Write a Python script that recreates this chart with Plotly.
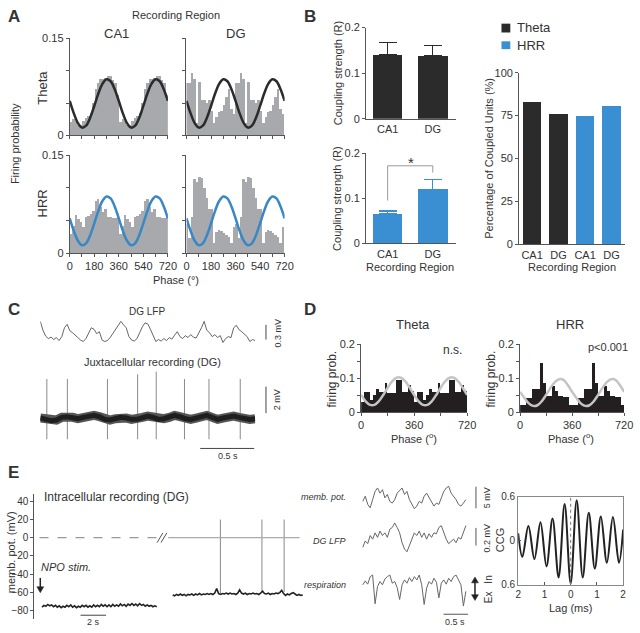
import plotly.graph_objects as go

W, H = 640, 633

# ---------------- DATA ----------------
# Panel A: phase histograms (18 deg bins, one cycle, shown twice)
A_bin_deg = 18
A_ca1_theta = [0.020, 0.025, 0.022, 0.015, 0.015, 0.022, 0.026, 0.030, 0.034, 0.050,
               0.072, 0.080, 0.087, 0.087, 0.088, 0.092, 0.092, 0.085, 0.080, 0.062]
A_dg_theta = [0.081, 0.081, 0.096, 0.087, 0.018, 0.082, 0.055, 0.055, 0.049, 0.054,
              0.038, 0.018, 0.028, 0.036, 0.038, 0.046, 0.059, 0.072, 0.041, 0.033]
A_ca1_hrr = [0.029, 0.041, 0.058, 0.052, 0.048, 0.040, 0.055, 0.057, 0.060, 0.065,
             0.080, 0.083, 0.071, 0.063, 0.068, 0.055, 0.055, 0.054, 0.054, 0.060]
A_dg_hrr = [0.045, 0.023, 0.055, 0.113, 0.108, 0.116, 0.115, 0.100, 0.085, 0.068,
            0.068, 0.015, 0.033, 0.035, 0.034, 0.031, 0.028, 0.025, 0.015, 0.040]
fit_phase = [0, 30, 60, 90, 120, 150, 180, 210, 240, 270, 300, 330,
             360, 390, 420, 450, 480, 510, 540, 570, 600, 630, 660, 690, 720]
A_fit_cycle = [0.0534, 0.0342, 0.0192, 0.0122, 0.0152, 0.0275,
               0.0456, 0.0648, 0.0798, 0.0868, 0.0838, 0.0715]
phase_ticks = [0, 90, 180, 270, 360, 450, 540, 630, 720]
phase_ticktext = ['0', '', '180', '', '360', '', '540', '', '720']

# Panel B
B_regions = ['CA1', 'DG']
B_theta_R = [0.140, 0.138]
B_theta_err = [0.027, 0.023]
B_hrr_R = [0.065, 0.120]
B_hrr_err = [0.007, 0.021]
B_pct_labels = ['CA1', 'DG', 'CA1', 'DG']
B_pct_band = ['Theta', 'Theta', 'HRR', 'HRR']
B_pct = [83, 76, 75, 81]

# Panel C: DG LFP (mV) sampled every 25 ms, juxtacellular baseline every 50 ms
C_lfp_dt = 0.025
C_lfp = [0.43, 0.25, 0.13, 0.08, 0.11, 0.06, 0.10, 0.04, 0.12, 0.30, 0.37, 0.24, 0.20, 0.14,
         0.10, 0.05, 0.02, 0.08, 0.20, 0.30, 0.27, 0.18, 0.22, 0.05, 0.02, 0.04, 0.10, 0.18,
         0.26, 0.33, 0.43, 0.36, 0.30, 0.12, 0.05, 0.03, 0.08, 0.20, 0.32, 0.40, 0.38, 0.27,
         0.14, 0.02, 0.06, 0.03, 0.08, 0.04, 0.10, 0.07, 0.15, 0.22, 0.12, 0.08, 0.14, 0.10,
         0.16, 0.11, 0.09, 0.18, 0.30, 0.43, 0.25, 0.20, 0.12, 0.16, 0.10, 0.14, 0.00, 0.08,
         0.12, 0.10, 0.30, 0.35, 0.26, 0.22, 0.16, 0.12, 0.02, 0.06, 0.04]
C_juxta_dt = 0.05
C_juxta = [0.0, -0.1, -0.2, -0.15, 0.05, 0.1, 0.05, -0.05, 0.05, 0.15, 0.2, 0.1, -0.1, -0.15,
           -0.05, 0.05, 0.0, -0.1, -0.1, 0.05, 0.15, 0.05, -0.1, -0.05, 0.05, 0.2, 0.1, -0.05,
           -0.1, 0.0, 0.1, 0.2, 0.05, -0.1, 0.0, 0.1, 0.15, 0.05, -0.05, -0.1, -0.05]
C_spike_t = [0.061, 0.252, 0.625, 0.906, 1.079, 1.342, 1.570, 1.861]
C_spike_peak = [2.95, 2.95, 2.95, 3.3, 3.5, 2.95, 2.95, 2.95]
C_spike_trough = [-1.6, -1.6, -1.6, -1.6, -1.6, -1.6, -1.6, -1.6]

# Panel D: phase histograms (20 deg bins, one cycle shown twice)
D_bin_deg = 20
D_theta = [0.030, 0.057, 0.057, 0.035, 0.050, 0.066, 0.058, 0.058, 0.085,
           0.056, 0.056, 0.056, 0.095, 0.095, 0.058, 0.058, 0.080, 0.060]
D_hrr = [0.020, 0.020, 0.040, 0.040, 0.066, 0.066, 0.066, 0.144, 0.085,
         0.046, 0.046, 0.075, 0.061, 0.046, 0.046, 0.044, 0.044, 0.020]
D_theta_fit_cycle = [0.0508, 0.0322, 0.0214, 0.0214, 0.0322, 0.0508,
                     0.0722, 0.0908, 0.1016, 0.1016, 0.0908, 0.0722]
D_hrr_fit_cycle = [0.0600, 0.0420, 0.0260, 0.0186, 0.0204, 0.0323,
                   0.0511, 0.0717, 0.0886, 0.0974, 0.0956, 0.0800]

# Panel E: intracellular recording (mV), samples every 0.15 s
E_dt = 0.15
E_seg1_t0 = 0.6
E_seg1 = [-76.5, -74.5, -75.5, -73.5, -75, -74, -76, -74.5, -76.5, -75, -77, -75.5, -76.5,
          -74.5, -76, -74, -76.5, -75, -77, -75.5, -76.5, -74.5, -76, -74.5, -76.5, -75,
          -76.5, -74, -76, -74.5, -76, -73.5, -75.5, -74, -76, -74, -76, -73.5, -75.5, -74,
          -75.5, -73, -75, -73.5, -75.5, -73, -74.5, -72.5, -74.5, -73, -75, -72.5, -74.5,
          -73.5, -75.5, -74, -75.5, -74.5, -76, -75, -76]
E_seg2_t0 = 10.85
E_seg2 = [-63.0, -64.0, -62.5, -63.5, -62.0, -63.5, -62.5, -64.0, -62.5, -63.0, -62.0, -63.5,
          -62.0, -63.0, -61.5, -63.0, -62.0, -62.5, -61.5, -62.5, -61.5, -62.5, -61.0, -56.0,
          -61.5, -62.5, -61.5, -62.0, -61.0, -62.0, -61.0, -62.0, -61.5, -62.5, -61.0, -57.5,
          -61.0, -62.0, -61.0, -62.5, -61.5, -62.0, -61.0, -62.0, -61.5, -62.5, -61.0, -59.0,
          -61.5, -62.0, -61.0, -62.5, -61.5, -62.0, -61.0, -61.5, -60.5, -58.0, -61.5, -63.5,
          -62.0, -63.0, -61.5, -60.5, -62.0, -63.5, -62.5, -63.5, -63.0]
E_spike_t = [14.59, 17.85, 19.59]
E_spike_peak = [20, 20, 20]
E_spike_base = [-61, -60, -60]
E_ticks = [-80, -60, -40, -20, 0, 20, 40]

# Panel E middle traces, samples every 50 ms
E2_dt = 0.05
E2_memb = [1.9, 3.1, 1.2, 0.4, 2.3, 4.2, 5.0, 3.8, 4.6, 2.7, 3.5, 1.9, 1.5, 2.3, 3.8, 4.5,
           5.0, 3.5, 4.2, 2.3, 1.2, 0.2, 0.8, 1.9, 1.5, 3.1, 3.8, 2.7, 1.9, 0.8, 1.5, 1.2,
           2.7, 4.2, 5.0, 5.4, 3.8, 3.1, 2.3, 1.2, 0.8, 1.5, 2.3]
E2_lfp = [0.0, 0.07, 0.04, 0.13, 0.09, 0.16, 0.11, 0.18, 0.13, 0.16, 0.11, 0.20, 0.22, 0.27,
          0.22, 0.16, 0.05, -0.02, -0.05, 0.02, 0.11, 0.16, 0.13, 0.18, 0.11, 0.16, 0.09,
          0.15, 0.11, 0.16, 0.15, 0.22, 0.24, 0.16, 0.09, 0.04, 0.07, 0.09, 0.05, 0.11, 0.09,
          0.16, 0.24]
E2_resp = [0.70, 0.82, 0.72, 0.95, 1.00, 0.12, 0.65, 0.80, 0.70, 0.88, 0.95, 1.00, 0.75,
           0.80, 0.62, 0.25, 0.70, 0.85, 0.75, 0.92, 0.80, 0.95, 0.85, 1.00, 0.70, 0.10,
           0.60, 0.80, 0.72, 0.90, 0.78, 0.30, 0.75, 0.85, 0.72, 0.90, 0.80, 0.95, 1.00,
           0.85, 0.70, 0.05, 0.50]

# CCG (extrema and end points)
ccg_lag = [-2.0, -1.84, -1.61, -1.38, -1.15, -0.92, -0.69, -0.46, -0.23, 0.0,
           0.23, 0.46, 0.69, 0.92, 1.15, 1.38, 1.61, 1.84, 2.0]
ccg_val = [0.10, -0.22, 0.20, -0.25, 0.25, -0.35, 0.30, -0.50, 0.50, -0.58,
           0.55, -0.50, 0.38, -0.38, 0.33, -0.30, 0.32, -0.30, 0.15]

# ---------------- STYLE ----------------
DARK = '#2b2b2b'
BLUE = '#3a8fd2'
GRAY_BAR = '#a7a9ac'
TXT = '#333333'
FONT = 'Arial, Liberation Sans, sans-serif'

fig = go.Figure()
layout = dict(width=W, height=H, margin=dict(l=0, r=0, t=0, b=0),
              paper_bgcolor='white', plot_bgcolor='white', showlegend=False,
              bargap=0, font=dict(family=FONT, color=TXT, size=11))
annotations = []
shapes = []
count = [0]


def axes(xpx, ypx, xcfg, ycfg):
    count[0] += 1
    i = count[0]
    s = '' if i == 1 else str(i)
    base = dict(showgrid=False, zeroline=False, fixedrange=True)
    xa = dict(base, domain=[xpx[0] / W, xpx[1] / W], anchor='y' + s)
    xa.update(xcfg)
    ya = dict(base, domain=[1 - ypx[1] / H, 1 - ypx[0] / H], anchor='x' + s)
    ya.update(ycfg)
    layout['xaxis' + s] = xa
    layout['yaxis' + s] = ya
    return 'x' + s, 'y' + s


def styled(**kw):
    d = dict(showline=True, linecolor='#555', linewidth=1, ticks='outside', ticklen=3,
             tickcolor='#555', tickwidth=1, tickfont=dict(size=11, color=TXT))
    d.update(kw)
    return d


HIDDEN = dict(visible=False)


def txt(s, x, y, size=11, angle=0, xanchor='center', yanchor='middle', color=TXT):
    annotations.append(dict(text=s, x=x / W, y=1 - y / H, xref='paper', yref='paper',
                            showarrow=False, font=dict(size=size, color=color, family=FONT),
                            textangle=angle, xanchor=xanchor, yanchor=yanchor))


def pline(x0, y0, x1, y1, color='#333', width=1, dash='solid'):
    shapes.append(dict(type='line', xref='paper', yref='paper', x0=x0 / W, y0=1 - y0 / H,
                       x1=x1 / W, y1=1 - y1 / H, line=dict(color=color, width=width, dash=dash)))


def tri(pts, color='#222'):
    path = 'M ' + ' L '.join('%.5f,%.5f' % (x / W, 1 - y / H) for x, y in pts) + ' Z'
    shapes.append(dict(type='path', xref='paper', yref='paper', path=path,
                       fillcolor=color, line=dict(color=color, width=0.5)))


# ---------------- PANEL A ----------------
A_centers = [A_bin_deg / 2 + A_bin_deg * i for i in range(2 * len(A_ca1_theta))]
A_fit = A_fit_cycle + A_fit_cycle + [A_fit_cycle[0]]
A_panels = [
    (A_ca1_theta, DARK, (68, 168), (33, 132), True, False),
    (A_dg_theta, DARK, (187, 287), (33, 132), False, False),
    (A_ca1_hrr, '#3a87c6', (68, 168), (152, 252), True, True),
    (A_dg_hrr, '#3a87c6', (187, 287), (152, 252), False, True),
]
for vals, fcol, xp, yp, ylab, xlab in A_panels:
    xa, ya = axes(xp, yp,
                  styled(range=[0, 720], tickvals=phase_ticks,
                         ticktext=phase_ticktext if xlab else [' '] * 9),
                  styled(range=[0, 0.15], tickvals=[0, 0.05, 0.1, 0.15],
                         ticktext=['0', ' ', ' ', '0.15'] if ylab else [' '] * 4))
    fig.add_trace(go.Bar(x=A_centers, y=vals + vals, width=A_bin_deg, marker_color=GRAY_BAR,
                         marker_line_width=0, xaxis=xa, yaxis=ya))
    fig.add_trace(go.Scatter(x=fit_phase, y=A_fit, mode='lines', line=dict(color=fcol, width=2.5,
                             shape='spline'), xaxis=xa, yaxis=ya))

txt('<b>A</b>', 11, 11, size=17)
txt('Recording Region', 176, 9, size=11)
txt('CA1', 116, 28, size=13)
txt('DG', 237, 28, size=13)
txt('Theta', 40, 83, size=13, angle=-90)
txt('HRR', 40, 201, size=13, angle=-90)
txt('Firing probability', 13, 140, size=11, angle=-90)
txt('Phase (°)', 176, 279, size=11)

# ---------------- PANEL B ----------------
bx = [0, 1]
xa, ya = axes((370, 462), (22, 115),
              styled(range=[-0.478, 1.522], tickvals=bx, ticktext=B_regions, ticks=''),
              styled(range=[0, 0.2], tickvals=[0, 0.1, 0.2], ticktext=['0', '0.1', '0.2']))
fig.add_trace(go.Bar(x=bx, y=B_theta_R, width=0.66, marker_color=DARK, marker_line_width=0,
                     error_y=dict(type='data', array=B_theta_err, arrayminus=[0, 0], symmetric=False,
                                  color=DARK, thickness=1.2, width=9),
                     xaxis=xa, yaxis=ya))
xb, yb = axes((370, 462), (150, 242),
              styled(range=[-0.478, 1.522], tickvals=bx, ticktext=B_regions, ticks=''),
              styled(range=[0, 0.2], tickvals=[0, 0.1, 0.2], ticktext=['0', '0.1', '0.2']))
fig.add_trace(go.Bar(x=bx, y=B_hrr_R, width=0.66, marker_color=BLUE, marker_line_width=0,
                     error_y=dict(type='data', array=B_hrr_err, arrayminus=[0, 0], symmetric=False,
                                  color=BLUE, thickness=1.2, width=9),
                     xaxis=xb, yaxis=yb))
# significance bracket
for (x0, y0, x1, y1) in [(0, 0.095, 0, 0.172), (0, 0.172, 1, 0.172), (1, 0.172, 1, 0.157)]:
    shapes.append(dict(type='line', xref=xb, yref=yb, x0=x0, y0=y0, x1=x1, y1=y1,
                       line=dict(color='#999', width=1)))
txt('*', 416, 160, size=15)

bp = [0, 1, 2, 3]
xc, yc = axes((526, 634), (68, 243),
              styled(range=[-0.49, 3.51], tickvals=bp, ticktext=B_pct_labels, ticks=''),
              styled(range=[0, 100], tickvals=[0, 25, 50, 75, 100]))
fig.add_trace(go.Bar(x=bp, y=B_pct, width=0.69,
                     marker_color=[DARK if b == 'Theta' else BLUE for b in B_pct_band],
                     marker_line_width=0, xaxis=xc, yaxis=yc))

txt('<b>B</b>', 313, 11, size=17)
txt('Coupling strength (R)', 341, 68, size=11, angle=-90)
txt('Coupling strength (R)', 341, 196, size=11, angle=-90)
txt('Recording Region', 415, 266, size=11)
txt('Percentage of Coupled Units (%)', 495, 155, size=11, angle=-90)
txt('Recording Region', 580, 266, size=11)
shapes.append(dict(type='rect', xref='paper', yref='paper', x0=508 / W, x1=517 / W,
                   y0=1 - 27 / H, y1=1 - 18 / H, fillcolor=DARK, line=dict(width=0)))
shapes.append(dict(type='rect', xref='paper', yref='paper', x0=508 / W, x1=517 / W,
                   y0=1 - 44 / H, y1=1 - 36 / H, fillcolor=BLUE, line=dict(width=0)))
txt('Theta', 522, 22, size=13, xanchor='left')
txt('HRR', 522, 40, size=13, xanchor='left')

# ---------------- PANEL C ----------------
t_lfp = [C_lfp_dt * i for i in range(len(C_lfp))]
xl, yl = axes((38, 257), (312, 348), dict(HIDDEN, range=[0, 2.0]), dict(HIDDEN, range=[-0.1, 0.62]))
fig.add_trace(go.Scatter(x=t_lfp, y=C_lfp, mode='lines', line=dict(color='#555', width=0.9),
                         xaxis=xl, yaxis=yl))
t_j = [C_juxta_dt * i for i in range(len(C_juxta))]
xj, yj = axes((38, 257), (365, 445), dict(HIDDEN, range=[0, 2.0]), dict(HIDDEN, range=[-1.85, 4.07]))
sx, sy = [], []
for t, hi, lo in zip(C_spike_t, C_spike_peak, C_spike_trough):
    sx += [t, t, None]
    sy += [lo, hi, None]
fig.add_trace(go.Scatter(x=sx, y=sy, mode='lines', line=dict(color='#8a8a8a', width=1),
                         xaxis=xj, yaxis=yj))
fig.add_trace(go.Scatter(x=t_j, y=C_juxta, mode='lines', line=dict(color='#555555', width=9),
                         xaxis=xj, yaxis=yj))
fig.add_trace(go.Scatter(x=t_j, y=C_juxta, mode='lines', line=dict(color='#1f1f1f', width=5),
                         xaxis=xj, yaxis=yj))
txt('<b>C</b>', 11, 309, size=17)
txt('DG LFP', 147, 311, size=10)
txt('Juxtacellular recording (DG)', 152, 363, size=11)
pline(268, 325, 268, 340, color='#444')
txt('0.3 mV', 280, 333, size=9, angle=-90)
pline(268, 388, 268, 415, color='#444')
txt('2 mV', 280, 401, size=9, angle=-90)
pline(201, 451, 256, 451, color='#444')
txt('0.5 s', 229, 459, size=9)

# ---------------- PANEL D ----------------
D_centers = [D_bin_deg / 2 + D_bin_deg * i for i in range(2 * len(D_theta))]
D_panels = [(D_theta, D_theta_fit_cycle, (365, 473)), (D_hrr, D_hrr_fit_cycle, (527, 633))]
for vals, fitc, xp in D_panels:
    xa, ya = axes(xp, (345, 414),
                  styled(range=[0, 720], tickvals=[0, 180, 360, 540, 720],
                         ticktext=['0', ' ', '360', ' ', '720'], tickfont=dict(size=11, color=TXT)),
                  styled(range=[0, 0.2], tickvals=[0, 0.05, 0.1, 0.15, 0.2],
                         ticktext=['0', ' ', '0.1', ' ', '0.2'], tickfont=dict(size=11, color=TXT)))
    fig.add_trace(go.Bar(x=D_centers, y=vals + vals, width=D_bin_deg, marker_color='#231f20',
                         marker_line_width=0, xaxis=xa, yaxis=ya))
    fig.add_trace(go.Scatter(x=fit_phase, y=fitc + fitc + [fitc[0]], mode='lines',
                             line=dict(color='#c4c4c4', width=2.5, shape='spline'),
                             xaxis=xa, yaxis=ya))
txt('<b>D</b>', 313, 309, size=17)
txt('Theta', 418, 325, size=13)
txt('HRR', 578, 325, size=13)
txt('n.s.', 458, 351, size=12)
txt('p<0.001', 617, 348, size=11)
txt('firing prob.', 335, 380, size=12, angle=-90)
txt('firing prob.', 497, 380, size=12, angle=-90)
txt('Phase (<sup>o</sup>)', 419, 440, size=11)
txt('Phase (<sup>o</sup>)', 579, 440, size=11)

# ---------------- PANEL E ----------------
xe, ye = axes((32, 310), (497, 625), dict(HIDDEN, range=[0, 21.4]),
              styled(range=[-89.7, 48.6], tickvals=E_ticks, tickfont=dict(size=10, color=TXT)))
shapes.append(dict(type='line', xref=xe, yref=ye, x0=0.4, x1=9.7, y0=0, y1=0,
                   line=dict(color='#999', width=1.2, dash='dash')))
shapes.append(dict(type='line', xref=xe, yref=ye, x0=10.5, x1=20.8, y0=0, y1=0,
                   line=dict(color='#aaa', width=1.2)))
t1 = [E_seg1_t0 + E_dt * i for i in range(len(E_seg1))]
t2 = [E_seg2_t0 + E_dt * i for i in range(len(E_seg2))]
fig.add_trace(go.Scatter(x=t1, y=E_seg1, mode='lines', line=dict(color='#222', width=1.6),
                         xaxis=xe, yaxis=ye))
ex, ey = [], []
for t, hi, lo in zip(E_spike_t, E_spike_peak, E_spike_base):
    ex += [t, t, None]
    ey += [lo, hi, None]
fig.add_trace(go.Scatter(x=ex, y=ey, mode='lines', line=dict(color='#888', width=1),
                         xaxis=xe, yaxis=ye))
fig.add_trace(go.Scatter(x=t2, y=E_seg2, mode='lines', line=dict(color='#222', width=1.6),
                         xaxis=xe, yaxis=ye))
txt('<b>E</b>', 11, 476, size=17)
txt('Intracellular recording (DG)', 40, 500, size=12, xanchor='left')
txt('memb. pot. (mV)', 9, 557, size=11, angle=-90)
txt('<i>NPO stim.</i>', 37, 572, size=11, xanchor='left')
pline(38, 583, 38, 593, color='#222', width=1.5)
tri([(34.5, 592), (41.5, 592), (38, 598)])
pline(79, 621, 105, 621, color='#444')
txt('2 s', 92, 628, size=9)
pline(157, 547, 163, 537, color='#555')
pline(161, 547, 167, 537, color='#555')

# middle traces
t_e2 = [E2_dt * i for i in range(len(E2_memb))]
for vals, yp, rng, lab, ylab in [(E2_memb, (486, 518), [-1.07, 6.2], 'memb. pot.', 500),
                                 (E2_lfp, (520, 565), [-0.145, 0.346], 'DG LFP', 545),
                                 (E2_resp, (570, 618), [-0.14, 1.3], 'respiration', 590)]:
    xm, ym = axes((365, 478), yp, dict(HIDDEN, range=[-0.034, 2.226]), dict(HIDDEN, range=rng))
    fig.add_trace(go.Scatter(x=t_e2, y=vals, mode='lines', line=dict(color='#666', width=1),
                             xaxis=xm, yaxis=ym))
    txt('<i>' + lab + '</i>', 352, ylab, size=9, xanchor='right')
pline(482, 490, 482, 512, color='#555')
txt('5 mV', 493, 501, size=9, angle=-90)
pline(482, 532, 482, 550, color='#555')
txt('0.2 mV', 493, 542, size=9, angle=-90)
pline(481, 587, 481, 601, color='#222', width=1.5)
tri([(477.5, 588), (484.5, 588), (481, 582)])
tri([(477.5, 600), (484.5, 600), (481, 606)])
txt('In', 495, 585, size=10, angle=-90)
txt('Ex', 495, 603, size=10, angle=-90)
pline(449, 620, 474, 620, color='#555')
txt('0.5 s', 461, 628, size=9)

# CCG
xg, yg = axes((525, 632), (500, 590),
              styled(range=[-2, 2], tickvals=[-2, -1, 0, 1, 2], ticktext=['2', '1', '0', '1', '2'],
                     mirror=True, ticks='inside', linecolor='#888', tickfont=dict(size=10, color=TXT)),
              styled(range=[-0.6, 0.6], tickvals=[-0.6, 0, 0.6], ticktext=['0.6', '0', '0.6'],
                     mirror=True, ticks='inside', linecolor='#888', tickfont=dict(size=10, color=TXT)))
shapes.append(dict(type='line', xref=xg, yref=yg + ' domain', x0=0, x1=0, y0=0, y1=1,
                   line=dict(color='#777', width=1, dash='dot')))
fig.add_trace(go.Scatter(x=ccg_lag, y=ccg_val, mode='lines',
                         line=dict(color='#222', width=2, shape='spline', smoothing=1.0),
                         xaxis=xg, yaxis=yg))
txt('CCG', 506, 545, size=11, angle=-90)
txt('Lag (ms)', 578, 614, size=11)

layout['annotations'] = annotations
layout['shapes'] = shapes
fig.update_layout(**layout)
fig.write_html('out.html', config={'displayModeBar': False},
               post_script="document.body.style.margin='0px';document.body.style.overflow='hidden';")
